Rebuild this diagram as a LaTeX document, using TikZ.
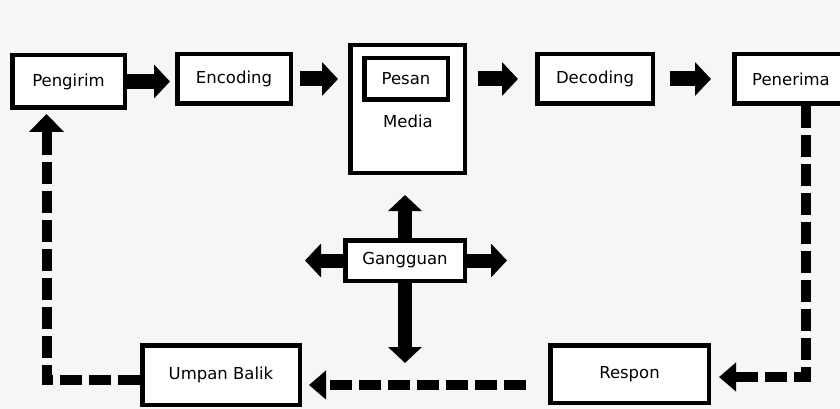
\documentclass[tikz,border=0pt]{standalone}
\usepackage{fontspec}
\setmainfont{DejaVu Sans}
\usetikzlibrary{arrows.meta}
\definecolor{latar}{RGB}{246,246,246}

\begin{document}
\begin{tikzpicture}[x=1pt,y=-1pt,
                    kotak/.style={draw=black,line width=4.5pt,fill=white,inner sep=0pt,font=\fontsize{16.5}{20}\selectfont},
                    panah/.style={line width=15pt,-{Triangle[length=16pt,width=33pt]}},
                    balik/.style={line width=10pt,dash pattern=on 22pt off 7pt,-{Triangle[length=17pt,width=28pt]}}]
                          \useasboundingbox (0,0) rectangle (840,409);
                          \clip (0,0) rectangle (840,409);
                          \fill[latar] (0,0) rectangle (840,409);

                          \node[kotak,minimum width=112.5pt,minimum height=52.5pt] (pengirim) at (68.5,81.5) {Pengirim};
                          \node[kotak,minimum width=113.5pt,minimum height=49.5pt] (encoding) at (234,79) {Encoding};
                          \node[kotak,minimum width=114.5pt,minimum height=127.5pt] (media) at (407.5,109) {};
                          \node[kotak,minimum width=83.5pt,minimum height=41.5pt] (pesan) at (406,79) {Pesan};
                          \node[font=\fontsize{16.5}{20}\selectfont] (mediateks) at (408,121) {Media};
                          \node[kotak,minimum width=115.5pt,minimum height=49.5pt] (decoding) at (595,79) {Decoding};
                          \node[kotak,minimum width=113.5pt,minimum height=49.5pt] (penerima) at (791,79) {Penerima};
                          \node[kotak,minimum width=119.5pt,minimum height=40.5pt] (gangguan) at (405,260.5) {Gangguan};
                          \node[kotak,minimum width=157.5pt,minimum height=59.5pt] (umpan) at (221,375) {Umpan Balik};
                          \node[kotak,minimum width=158.5pt,minimum height=57.5pt] (respon) at (629.5,374) {Respon};

                          \coordinate (gbawah) at (405,363);
                          \coordinate (gkiri) at (305,260.5);
                          \coordinate (gkanan) at (507,260.5);

                          \draw[panah,shorten >=5pt] (pengirim.east) -- (pengirim.east -| encoding.west);
                          \draw[panah,shorten <=7pt,shorten >=10pt] (encoding.east) -- (encoding.east -| media.west);
                          \draw[panah,shorten <=11pt,shorten >=17pt] (media.east |- decoding.west) -- (decoding.west);
                          \draw[panah,shorten <=15pt,shorten >=21pt] (decoding.east) -- (penerima.west);

                          \draw[panah,line width=14pt,shorten >=20pt] (gangguan.north) -- (gangguan.north |- media.south);
                          \draw[panah,line width=14pt] (gangguan.south) -- (gbawah);
                          \draw[panah,line width=14pt] (gangguan.west) -- (gkiri);
                          \draw[panah,line width=14pt] (gangguan.east) -- (gkanan);

                          \draw[balik,shorten >=8pt] ([xshift=15pt]penerima.south) |- ([yshift=-3pt]respon.east);
                          \draw[balik,shorten <=22pt,shorten >=7pt] ([yshift=-11pt]respon.west) -- ([yshift=-11pt]respon.west -| umpan.east);
                          \draw[balik,-{Triangle[length=18pt,width=34pt]},shorten >=4pt] ([yshift=-5pt]umpan.west) -| ([xshift=-22pt]pengirim.south);
\end{tikzpicture}
\end{document}
